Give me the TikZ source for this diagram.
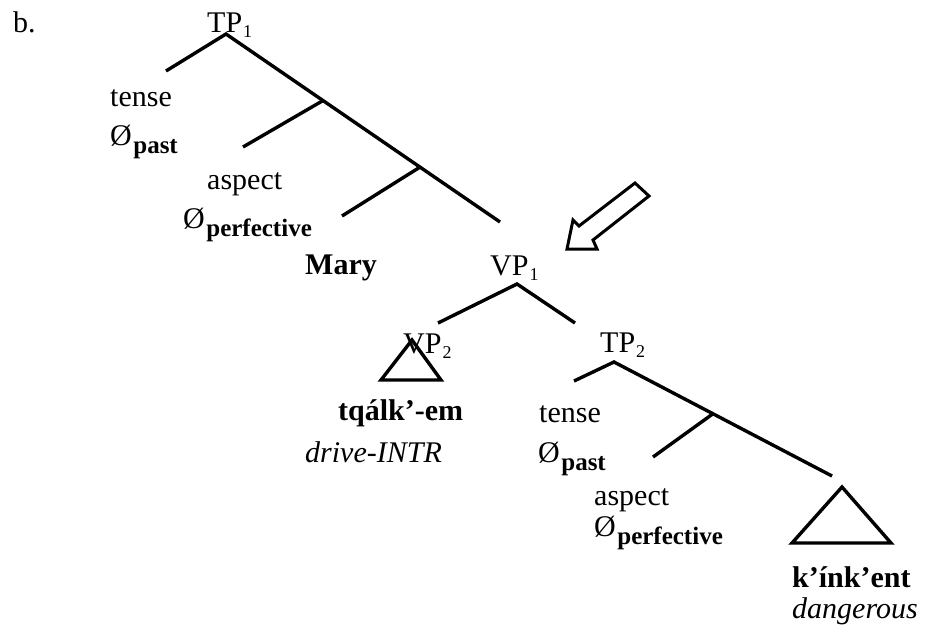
\documentclass[tikz,border=0pt]{standalone}
\usepackage{fontspec}
\setmainfont{Liberation Serif}
\usetikzlibrary{calc}
\newcommand\zsub[1]{Ø\kern1.5pt\raisebox{-8.5pt}{\fontsize{25}{25}\selectfont\bfseries #1}}
\newcommand\nsub[2]{#1\kern1pt\raisebox{-5pt}{\fontsize{18}{18}\selectfont #2}}
\tikzset{
  lbl/.style={anchor=base west, inner sep=0pt, font=\fontsize{30}{36}\selectfont},
  bld/.style={lbl, font=\fontsize{30}{36}\selectfont\bfseries},
  itl/.style={lbl, font=\fontsize{30}{36}\selectfont\itshape},
  br/.style={line width=3.4pt},
  tri/.style={line width=3.4pt, line join=miter},
  blockarrow/.style={line width=3pt, line join=miter}
}
\begin{document}
\begin{tikzpicture}[x=1pt,y=-1pt]
\useasboundingbox (0,0) rectangle (931,635);
% labels
\node[lbl] (b) at (13,32) {b.};
\node[lbl] (tp1) at (207,32) {\nsub{TP}{1}};
\node[lbl] (tense1) at (110,106) {tense};
\node[lbl] (past1) at (110,145) {\zsub{past}};
\node[lbl] (aspect1) at (207,189) {aspect};
\node[lbl] (perf1) at (183,228) {\zsub{perfective}};
\node[bld] (mary) at (305,274) {Mary};
\node[lbl] (vp1) at (490,275) {\nsub{VP}{1}};
\node[lbl] (vp2) at (403,353) {\nsub{VP}{2}};
\node[lbl] (tp2) at (600,352) {\nsub{TP}{2}};
\node[bld] (tq) at (338,420) {tqálk’-em};
\node[itl] (drive) at (305,462) {drive-INTR};
\node[lbl] (tense2) at (539,422) {tense};
\node[lbl] (past2) at (538,462) {\zsub{past}};
\node[lbl] (aspect2) at (594,505) {aspect};
\node[lbl] (perf2) at (594,536) {\zsub{perfective}};
\node[bld] (kink) at (792,587) {k’ínk’ent};
\node[itl] (dang) at (792,618) {dangerous};
% upper TP
\coordinate (tp1a) at (226,34);
\coordinate (tp1l) at (166,71);
\coordinate (tp1r) at (500,222);
\coordinate (j1) at ($(tp1a)!0.354!(tp1r)$);
\coordinate (j2) at ($(tp1a)!0.708!(tp1r)$);
\coordinate (j1e) at (243,147);
\coordinate (j2e) at (342,216);
\draw[br] (tp1l) -- (tp1a) -- (tp1r);
\draw[br] (j1) -- (j1e);
\draw[br] (j2) -- (j2e);
% VP1
\coordinate (vp1a) at (517,284);
\coordinate (vp1l) at (438,323);
\coordinate (vp1r) at (575,323);
\draw[br] (vp1l) -- (vp1a) -- (vp1r);
% VP2 triangle
\coordinate (t1a) at (412,340);
\coordinate (t1l) at (381,380);
\coordinate (t1r) at (441,380);
\draw[tri] (t1a) -- (t1l) -- (t1r) -- cycle;
% lower TP
\coordinate (tp2a) at (614,362);
\coordinate (tp2l) at (574,381);
\coordinate (tp2r) at (832,476);
\coordinate (j3) at ($(tp2a)!0.454!(tp2r)$);
\coordinate (j3e) at (653,457);
\draw[br] (tp2l) -- (tp2a) -- (tp2r);
\draw[br] (j3) -- (j3e);
% triangle 2
\coordinate (t2a) at (842,487);
\coordinate (t2l) at (792,543);
\coordinate (t2r) at (891,543);
\draw[tri] (t2a) -- (t2l) -- (t2r) -- cycle;
% block arrow
\coordinate (a1) at (635,183);
\coordinate (a2) at (649,196);
\coordinate (a3) at (593,240);
\coordinate (a4) at (597,249);
\coordinate (a5) at (567,249);
\coordinate (a6) at (573,220);
\coordinate (a7) at (579,226);
\draw[blockarrow] (a1) -- (a2) -- (a3) -- (a4) -- (a5) -- (a6) -- (a7) -- cycle;
\end{tikzpicture}
\end{document}
